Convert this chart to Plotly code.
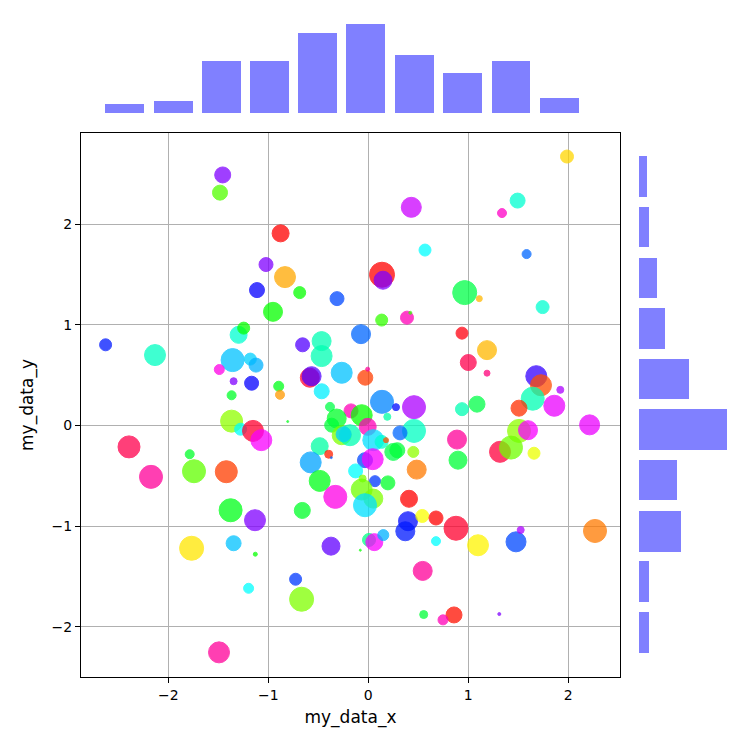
import plotly.graph_objects as go

# ---- scatter data (x, y, colour value on hsv scale, marker diameter px) ----
x_vals = [-1.456, -1.483, 0.43, 0.567, -0.877, -1.023, -0.833, -0.686, -0.313, -1.113,
          -0.953, 0.137, 0.147, 0.134, 0.387, 0.42, 1.987, 1.493, 1.337, 1.583,
          0.964, 1.11, 1.743, -0.073, -2.627, -2.133, -1.297, -1.246, -1.357, -1.18,
          -1.123, -1.49, -1.347, -1.167, -1.367, -1.367, -1.277, -1.153, -1.07, -2.393,
          -2.173, -1.786, -1.743, -1.42, -1.377, -1.133, -1.767, -1.347, -1.13, -1.197,
          -1.493, -0.66, 0.397, 0.37, 0.54, 0.677, -0.373, 0.007, 0.06, 0.15,
          -0.08, 0.677, -0.727, -0.667, 0.544, 0.554, 0.877, 1.097, 1.477, 1.524,
          2.267, 0.857, 0.747, 1.31, 0.937, 1.187, 1.0, 1.187, 1.68, 1.727,
          1.644, 1.92, 1.86, 1.507, 0.937, 1.087, 2.213, 1.507, 1.597, 1.317,
          1.427, 1.657, 0.887, 0.897, -0.657, -0.467, -0.467, -0.266, -0.585, -0.567,
          -0.03, -0.006, -0.466, -0.896, -0.883, 0.137, 0.277, 0.457, 0.19, -0.806,
          -0.383, -0.173, -0.316, -0.066, -0.366, -0.006, 0.457, 0.317, -0.266, -0.183,
          -0.247, 0.05, 0.133, 0.177, 0.25, 0.29, 0.45, -0.486, -0.396, -0.37,
          -0.576, -0.033, 0.044, 0.484, -0.127, -0.486, -0.057, 0.067, 0.196, -0.33,
          -0.066, 0.05, -0.033, 0.407]
y_vals = [2.491, 2.315, 2.169, 1.744, 1.91, 1.60, 1.475, 1.321, 1.261, 1.346,
          1.13, 1.499, 1.444, 1.048, 1.072, 1.12, 2.674, 2.236, 2.112, 1.704,
          1.321, 1.261, 1.177, 0.908, 0.802, 0.70, 0.901, 0.968, 0.65, 0.66,
          0.60, 0.556, 0.44, 0.42, 0.30, 0.043, -0.037, -0.054, -0.146, -0.213,
          -0.511, -0.286, -0.455, -0.46, -0.843, -0.942, -1.221, -1.171, -1.28, -1.619,
          -2.256, -0.845, -0.952, -1.052, -0.9, -0.92, -1.2, -1.138, -1.16, -1.09,
          -1.24, -1.15, -1.529, -1.728, -1.446, -1.88, -1.022, -1.191, -1.157, -1.039,
          -1.049, -1.884, -1.933, -1.875, 0.918, 0.749, 0.626, 0.52, 0.49, 0.40,
          0.266, 0.354, 0.196, 0.172, 0.162, 0.212, 0.006, -0.054, -0.047, -0.262,
          -0.22, -0.276, -0.14, -0.345, 0.802, 0.839, 0.69, 0.524, 0.475, 0.49,
          0.475, 0.56, 0.34, 0.39, 0.305, 0.235, 0.182, 0.182, 0.086, 0.039,
          0.185, 0.145, 0.069, 0.102, 0.003, -0.014, -0.054, -0.074, -0.097, -0.097,
          -0.087, -0.146, -0.163, -0.146, -0.263, -0.246, -0.263, -0.206, -0.286, -0.32,
          -0.367, -0.345, -0.335, -0.439, -0.452, -0.551, -0.527, -0.554, -0.571, -0.71,
          -0.637, -0.727, -0.793, -0.729]
c_vals = [0.75, 0.28, 0.80, 0.50, 0.0, 0.75, 0.11, 0.33, 0.62, 0.67,
          0.33, 0.0, 0.75, 0.30, 0.88, 0.30, 0.14, 0.47, 0.87, 0.60,
          0.38, 0.12, 0.47, 0.60, 0.65, 0.46, 0.47, 0.33, 0.54, 0.53,
          0.55, 0.85, 0.75, 0.67, 0.36, 0.24, 0.50, 0.97, 0.83, 0.95,
          0.90, 0.36, 0.27, 0.04, 0.35, 0.75, 0.15, 0.54, 0.33, 0.50,
          0.90, 0.36, 0.66, 0.65, 0.17, 0.0, 0.73, 0.42, 0.83, 0.55,
          0.33, 0.50, 0.63, 0.25, 0.90, 0.37, 0.97, 0.16, 0.62, 0.78,
          0.08, 0.01, 0.88, 0.75, 0.99, 0.12, 0.95, 0.92, 0.70, 0.05,
          0.45, 0.78, 0.82, 0.03, 0.45, 0.38, 0.82, 0.24, 0.83, 0.96,
          0.26, 0.18, 0.90, 0.37, 0.72, 0.45, 0.45, 0.54, 0.97, 0.72,
          0.04, 0.90, 0.51, 0.35, 0.10, 0.58, 0.66, 0.78, 0.44, 0.35,
          0.38, 0.88, 0.36, 0.33, 0.37, 0.88, 0.46, 0.60, 0.25, 0.45,
          0.53, 0.52, 0.47, 0.05, 0.38, 0.37, 0.24, 0.44, 0.02, 0.60,
          0.56, 0.62, 0.83, 0.08, 0.50, 0.35, 0.25, 0.63, 0.36, 0.85,
          0.26, 0.25, 0.52, 0.0]
s_vals = [17, 16, 21, 13, 18, 15, 22, 13, 15, 16,
          20, 26, 19, 13, 14, 4, 14, 16, 10, 10,
          25, 7, 14, 20, 13, 22, 18, 13, 24, 13,
          15, 11, 8, 15, 10, 23, 13, 22, 22, 23,
          24, 10, 24, 23, 24, 22, 25, 16, 5, 11,
          22, 17, 20, 20, 14, 15, 19, 14, 18, 12,
          3, 10, 13, 25, 20, 9, 25, 22, 21, 8,
          24, 17, 11, 4, 13, 20, 17, 7, 22, 22,
          24, 8, 22, 17, 14, 17, 21, 24, 20, 22,
          24, 13, 20, 19, 15, 20, 22, 22, 20, 20,
          16, 5, 16, 11, 10, 24, 8, 24, 8, 3,
          10, 15, 20, 22, 15, 18, 24, 15, 20, 22,
          16, 22, 14, 6, 18, 16, 12, 18, 9, 3,
          22, 16, 22, 20, 15, 22, 8, 12, 15, 24,
          22, 20, 24, 18]

# ---- marginal histograms ----
top_centers = [-2.435, -1.95, -1.466, -0.988, -0.509, -0.025, 0.461, 0.944, 1.427, 1.91]
top_counts = [3, 4, 17, 17, 26, 29, 19, 13, 17, 5]
right_centers = [-2.057, -1.554, -1.052, -0.544, -0.042, 0.461, 0.963, 1.466, 1.973, 2.476]
right_counts = [5, 5, 21, 19, 44, 25, 13, 9, 5, 4]

x_ticks = [-2, -1, 0, 1, 2]
y_ticks = [-2, -1, 0, 1, 2]

hsv_scale = [[0.0, "#ff0000"], [1/6, "#ffff00"], [2/6, "#00ff00"], [3/6, "#00ffff"],
             [4/6, "#0000ff"], [5/6, "#ff00ff"], [1.0, "#ff0000"]]

W = 750.0
xr = [-2.873, 2.517]
yr = [-2.501, 2.908]
main_xd = [81 / W, 620 / W]
main_yd = [1 - 677 / W, 1 - 133 / W]

fig = go.Figure()
fig.add_trace(go.Scatter(
    x=x_vals, y=y_vals, mode="markers", xaxis="x", yaxis="y",
    marker=dict(color=c_vals, colorscale=hsv_scale, cmin=0, cmax=1,
                size=[max(s - 1, 2) for s in s_vals], opacity=0.75,
                line=dict(width=1, color=c_vals, colorscale=hsv_scale, cmin=0, cmax=1)),
    showlegend=False, hoverinfo="skip"))

fig.add_trace(go.Bar(x=top_centers, y=top_counts, width=0.388, marker_color="#8080ff",
                     marker_line_width=0, xaxis="x2", yaxis="y2", showlegend=False))
fig.add_trace(go.Bar(y=right_centers, x=right_counts, width=0.403, orientation="h",
                     marker_color="#8080ff", marker_line_width=0,
                     xaxis="x3", yaxis="y3", showlegend=False))

axis_common = dict(showgrid=True, gridcolor="#b0b0b0", gridwidth=1, zeroline=False,
                   showline=True, mirror=True, linecolor="black", linewidth=1,
                   ticks="outside", ticklen=5, tickwidth=1, tickcolor="black",
                   tickfont=dict(size=14, color="black"), automargin=False)

fig.update_layout(
    width=750, height=750,
    margin=dict(l=0, r=0, t=0, b=0),
    paper_bgcolor="white", plot_bgcolor="white",
    font=dict(family="DejaVu Sans", size=14, color="black"),
    bargap=0,
    xaxis=dict(domain=main_xd, range=xr, tickvals=x_ticks,
               title=dict(text="my_data_x", standoff=9), anchor="y", **axis_common),
    yaxis=dict(domain=main_yd, range=yr, tickvals=y_ticks,
               title=dict(text="my_data_y", standoff=13), anchor="x", **axis_common),
    xaxis2=dict(domain=main_xd, range=xr, visible=False, anchor="y2"),
    yaxis2=dict(domain=[1 - 113 / W, 1 - 18.5 / W], range=[0, 29 * 1.05],
                visible=False, anchor="x2"),
    xaxis3=dict(domain=[639 / W, 731.4 / W], range=[0, 44 * 1.05],
                visible=False, anchor="y3"),
    yaxis3=dict(domain=main_yd, range=yr, visible=False, anchor="x3"),
)

fig.write_html("out.html")
